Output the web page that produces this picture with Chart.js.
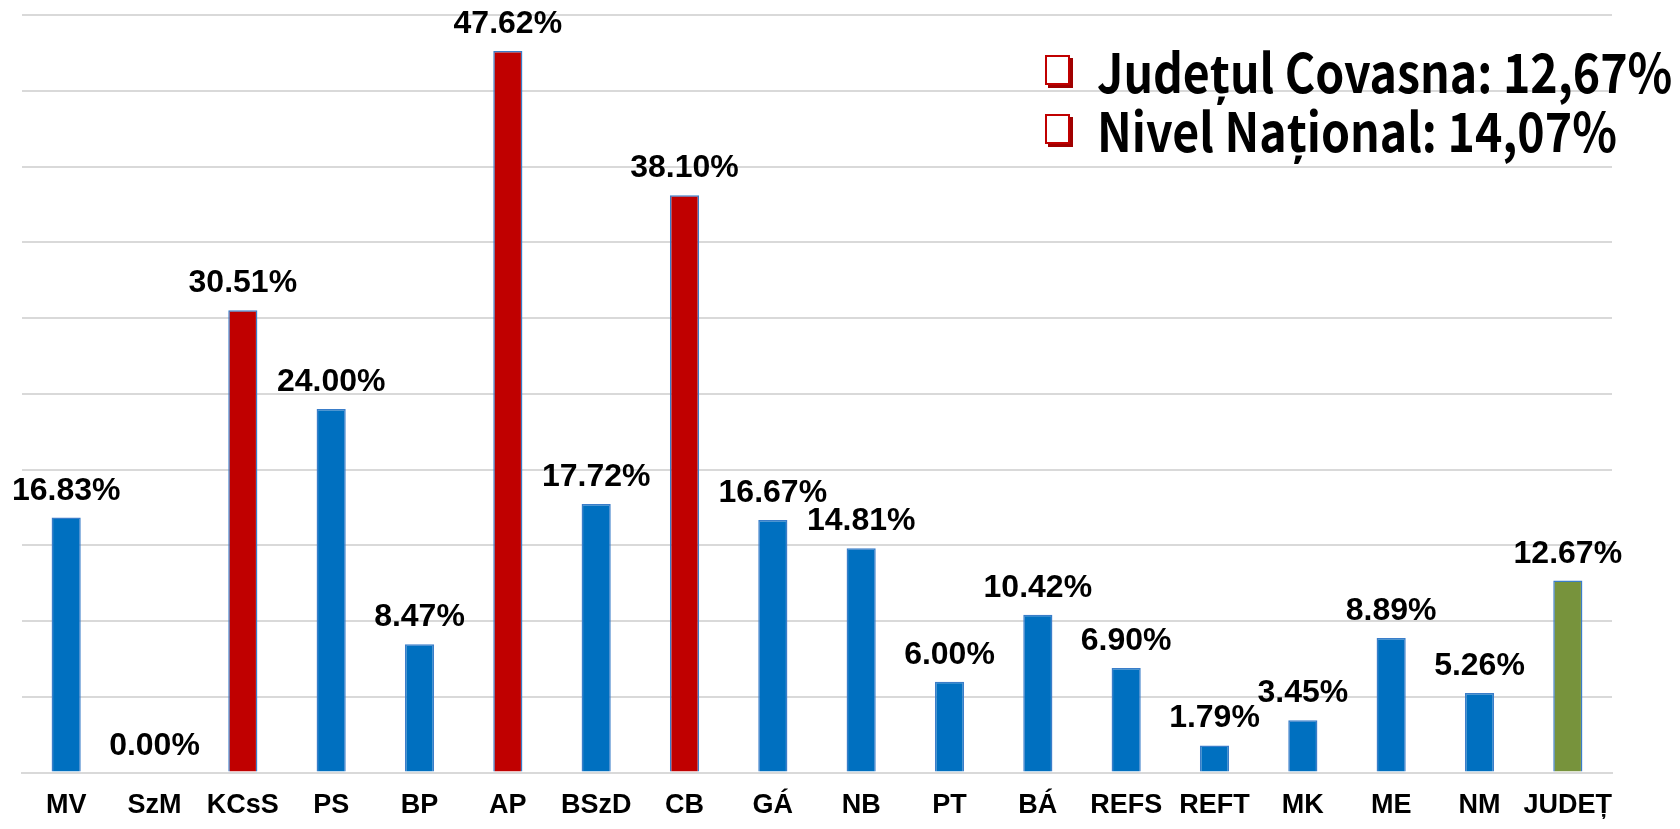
<!DOCTYPE html>
<html>
<head>
<meta charset="utf-8">
<script src="https://cdn.jsdelivr.net/npm/chart.js@4.4.0/dist/chart.umd.min.js"></script>
<style>
    body { margin: 0; background: #fff; }
    #wrap { position: relative; width: 1680px; height: 829px; }
    #legend { position: absolute; left: 1045px; top: 40px; font-family: "Noto Sans CJK KR", "Noto Sans", sans-serif; font-weight: bold; font-size: 54px; line-height: 59px; color: #000; }
    .item { display: flex; align-items: center; white-space: nowrap; height: 59px; }
    .box { flex: none; width: 21px; height: 26px; border: 2px solid #C00000; box-shadow: 3px 3px 0 #A00000; margin-right: 27px; background: #fff; }
    .txt { display: inline-block; transform: scaleX(0.86); transform-origin: left center; }
</style>
</head>
<body>
<div id="wrap">
    <canvas id="chart" width="1680" height="829"></canvas>
    <div id="legend">
        <div class="item"><span class="box"></span><span class="txt">Județul Covasna: 12,67%</span></div>
        <div class="item"><span class="box"></span><span class="txt">Nivel Național: 14,07%</span></div>
    </div>
</div>
<script>
// categories and values
const categories = ["MV", "SzM", "KCsS", "PS", "BP", "AP", "BSzD", "CB", "GÁ", "NB", "PT", "BÁ", "REFS", "REFT", "MK", "ME", "NM", "JUDEȚ"];
const percentages = [16.83, 0.00, 30.51, 24.00, 8.47, 47.62, 17.72, 38.10, 16.67, 14.81, 6.00, 10.42, 6.90, 1.79, 3.45, 8.89, 5.26, 12.67];
const highlighted = ["KCsS", "AP", "CB"];
const countyLabel = "JUDEȚ";

// bar colours
const barColors = categories.map(c => {
    if (c === countyLabel) return '#77933C';
    if (highlighted.includes(c)) return '#C00000';
    return '#0070C0';
});

// drawing value labels above each bar
const valueLabels = {
    id: 'valueLabels',
    afterDatasetsDraw(chart) {
        const ctx = chart.ctx;
        const meta = chart.getDatasetMeta(0);
        ctx.save();
        ctx.font = 'bold 32px "Liberation Sans", Arial, sans-serif';
        ctx.fillStyle = '#000';
        ctx.textAlign = 'center';
        ctx.textBaseline = 'alphabetic';
        meta.data.forEach((bar, i) => {
            ctx.fillText(percentages[i].toFixed(2) + '%', bar.x, bar.y - 18);
        });
        ctx.restore();
    }
};

const ctx = document.getElementById("chart").getContext("2d");
new Chart(ctx, {
    type: 'bar',
    data: {
        labels: categories,
        datasets: [{
            data: percentages,
            backgroundColor: barColors,
            borderColor: '#3A7DC9',
            borderWidth: 1.5,
            categoryPercentage: 1,
            barPercentage: 0.33
        }]
    },
    options: {
        responsive: false,
        animation: false,
        layout: { padding: { left: 22, right: 68, top: 15, bottom: -10 } },
        plugins: {
            legend: { display: false },
            tooltip: { enabled: false }
        },
        scales: {
            x: {
                grid: { display: false, drawTicks: false },
                border: { color: '#D9D9D9', width: 2 },
                ticks: {
                    color: '#000',
                    padding: 17,
                    maxRotation: 0,
                    minRotation: 0,
                    autoSkip: false,
                    font: { family: '"Liberation Sans", Arial, sans-serif', size: 27, weight: 'bold' }
                }
            },
            y: {
                min: 0,
                max: 50,
                ticks: { display: false, stepSize: 5 },
                grid: { color: '#D9D9D9', lineWidth: 2, drawTicks: false },
                border: { display: false }
            }
        }
    },
    plugins: [valueLabels]
});
</script>
</body>
</html>
